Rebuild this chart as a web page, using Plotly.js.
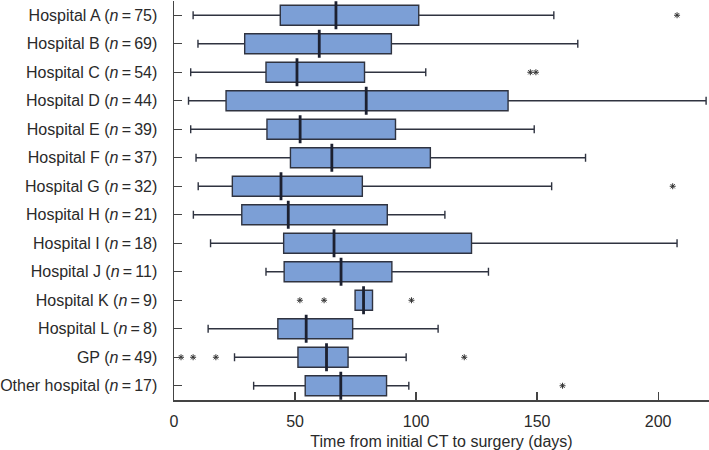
<!DOCTYPE html>
<html><head><meta charset="utf-8">
<script src="https://cdn.plot.ly/plotly-3.0.1.min.js"></script>
<style>body{margin:0;background:#fff}#c{width:709px;height:450px}</style>
</head><body><div id="c"></div>
<script>
const categories = ["Hospital A","Hospital B","Hospital C","Hospital D","Hospital E","Hospital F","Hospital G","Hospital H","Hospital I","Hospital J","Hospital K","Hospital L","GP","Other hospital"];
const counts = [75,69,54,44,39,37,32,21,18,11,9,8,49,17];
const lowerWhisker = [7.9, 9.9, 6.9, 6.0, 6.9, 9.1, 10.0, 8.0, 15.1, 38.0, 74.8, 14.1, 25.0, 32.9];
const q1Values     = [43.9, 29.2, 38.0, 21.5, 38.4, 48.1, 24.1, 28.0, 45.3, 45.5, 74.8, 42.9, 51.2, 54.2];
const medianValues = [66.9, 60.0, 50.8, 79.4, 52.1, 65.2, 44.2, 47.2, 66.1, 69.0, 78.3, 54.6, 63.0, 68.9];
const q3Values     = [101.1, 89.8, 78.7, 138.0, 91.5, 105.9, 77.8, 88.1, 122.9, 90.0, 82.0, 73.8, 71.9, 87.8];
const upperWhisker = [156.9, 166.8, 104.0, 219.8, 148.8, 170.0, 156.0, 111.9, 207.8, 129.9, 82.0, 109.1, 95.9, 97.0];
const outlierValues = [207.8, 147.2, 149.5, 206.0, 52.0, 62.0, 98.1, 2.9, 7.9, 17.3, 119.9, 160.5];
const outlierGroups = ["Hospital A","Hospital C","Hospital C","Hospital G","Hospital K","Hospital K","Hospital K","GP","GP","GP","GP","Other hospital"];
const xTicks = [0, 50, 100, 150, 200];

const tickText = categories.map((c,i)=> c + " (<i>n</i>\u2009=\u2009" + counts[i] + ")");
const font = {family: "Liberation Sans, Arial, sans-serif", size: 16, color: "#2a2a2a"};

const traces = [
  {
    type: "box", orientation: "h", y: categories, width: 0.7,
    lowerfence: lowerWhisker, q1: q1Values, median: medianValues, q3: q3Values, upperfence: upperWhisker,
    fillcolor: "#7c9fd6", line: {color: "#2f3340", width: 1.4},
    whiskerwidth: 0.4, boxpoints: false, hoverinfo: "skip", showlegend: false
  },
  {
    type: "scatter", mode: "markers", x: medianValues, y: categories,
    marker: {symbol: "line-ns-open", size: 20, color: "#1c2030", line: {color: "#1c2030", width: 2.8}},
    hoverinfo: "skip", showlegend: false
  },
  {
    type: "scatter", mode: "markers", x: outlierValues, y: outlierGroups,
    marker: {symbol: "asterisk-open", size: 5, color: "#333", line: {color: "#333", width: 1}},
    hoverinfo: "skip", showlegend: false
  }
];

const layout = {
  width: 709, height: 450,
  margin: {l: 174, r: 0, t: 1, b: 50},
  paper_bgcolor: "#fff", plot_bgcolor: "#fff",
  font: font,
  showlegend: false,
  xaxis: {
    range: [0, 221], tickvals: xTicks, ticks: "inside", ticklen: 8, tickwidth: 1.3, tickcolor: "#444",
    showline: true, linecolor: "#444", linewidth: 1.5, showgrid: false, zeroline: false,
    tickfont: font, ticklabelstandoff: 6,
    title: {text: "Time from initial CT to surgery (days)", font: font, standoff: 8}
  },
  yaxis: {
    type: "category", categoryorder: "array", categoryarray: categories,
    range: [13.5, -0.5], tickvals: categories, ticktext: tickText,
    ticks: "inside", ticklen: 8, tickwidth: 1.3, tickcolor: "#444",
    showline: true, linecolor: "#444", linewidth: 1.5, showgrid: false, zeroline: false,
    tickfont: font, ticklabelstandoff: 12
  }
};
Plotly.newPlot("c", traces, layout, {staticPlot: true, displayModeBar: false});
</script></body></html>
